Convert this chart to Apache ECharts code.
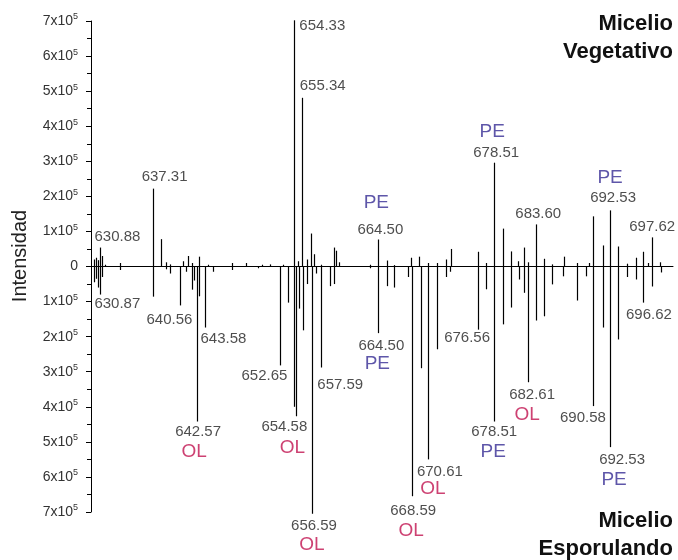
<!DOCTYPE html>
<html>
<head>
<meta charset="utf-8">
<script src="https://cdn.jsdelivr.net/npm/echarts@6/dist/echarts.min.js"></script>
<style>html,body{margin:0;padding:0;background:#fff;}#c{width:678px;height:560px;}</style>
</head>
<body>
<div id="c"></div>
<script>
// m/z and intensity (x10^5) — Micelio Vegetativo (upper trace)
const vegPeaks = [
  [630.2,0.2],[630.4,0.25],[630.6,0.18],[630.88,0.54],[631.1,0.3],[631.5,0.05],[633.3,0.1],
  [637.31,2.22],[638.30,0.78],[638.9,0.12],[639.4,0.06],[640.9,0.15],[641.5,0.3],[642.0,0.1],
  [642.9,0.28],[644.0,0.05],[646.8,0.1],[648.6,0.1],[650.5,0.05],[651.5,0.06],[653.0,0.05],
  [654.33,7.02],[654.8,0.15],[655.34,4.81],[655.9,0.2],[656.40,0.94],[656.8,0.35],[657.6,0.05],
  [659.2,0.54],[659.4,0.45],[659.8,0.12],[663.6,0.05],[664.50,0.77],[665.6,0.17],[666.5,0.04],
  [668.5,0.25],[669.5,0.28],[670.6,0.1],[671.6,0.1],[672.7,0.2],[673.3,0.5],[676.56,0.42],
  [677.6,0.1],[678.51,2.96],[679.6,1.08],[680.6,0.43],[681.5,0.15],[682.2,0.54],[682.6,0.12],
  [683.60,1.2],[684.6,0.22],[685.6,0.06],[687.0,0.28],[688.6,0.1],[690.0,0.1],[690.58,1.43],
  [691.7,0.6],[692.53,1.6],[693.6,0.57],[694.6,0.08],[695.7,0.25],[696.6,0.42],[697.2,0.1],
  [697.62,0.83],[698.6,0.12]
];
// m/z and intensity (x10^5) — Micelio Esporulando (lower, mirrored trace)
const espPeaks = [
  [630.2,0.45],[630.4,0.35],[630.6,0.6],[630.87,0.8],[631.1,0.3],[633.3,0.1],[637.31,0.86],
  [638.9,0.08],[639.4,0.2],[640.56,1.11],[641.3,0.15],[642.0,0.66],[642.3,0.4],[642.57,4.42],
  [642.9,0.85],[643.58,1.74],[644.6,0.15],[646.8,0.1],[650.0,0.05],[652.65,2.82],[653.6,1.03],
  [654.33,4.0],[654.58,4.27],[654.9,1.2],[655.4,1.82],[655.9,0.5],[656.59,7.05],[657.0,0.2],
  [657.59,2.88],[658.7,0.56],[659.2,0.5],[663.6,0.05],[664.50,1.9],[665.6,0.56],[666.5,0.6],
  [668.2,0.3],[668.59,6.55],[669.7,2.9],[670.61,5.5],[671.6,2.36],[672.7,0.3],[673.2,0.15],
  [676.56,1.8],[677.6,0.65],[678.51,4.42],[679.6,1.65],[680.6,1.17],[681.6,0.37],[682.2,0.75],
  [682.61,3.3],[683.6,1.54],[684.6,1.42],[685.6,0.51],[686.9,0.28],[688.6,0.97],[689.7,0.28],
  [690.58,3.98],[691.7,1.74],[692.53,5.15],[693.6,2.08],[694.6,0.3],[695.7,0.37],[696.62,1.03],
  [697.62,0.57],[698.7,0.17]
];
// Annotated peaks
const vegLabelMz  = [630.88, 637.31, 654.33, 655.34, 664.50, 678.51, 683.60, 692.53, 697.62];
const vegLabelTag = ['', '', '', '', 'PE', 'PE', '', 'PE', ''];
const espLabelMz  = [630.87, 640.56, 643.58, 642.57, 652.65, 654.58, 656.59, 657.59, 664.50,
                     668.59, 670.61, 676.56, 678.51, 682.61, 690.58, 692.53, 696.62];
const espLabelTag = ['', '', '', 'OL', '', 'OL', 'OL', '', 'PE', 'OL', 'OL', '', 'PE', 'OL', '', 'PE', ''];
// Y tick values (x10^5)
const yTicks = [-7,-6,-5,-4,-3,-2,-1,0,1,2,3,4,5,6,7];

// layout: label offsets in px from the peak tip
const vegNumOff = [[18,-10],[12,-11],[29,6],[21,-11],[3,-9],[3,-9],[3,-10],[4,-12],[1,-10]];
const vegTagOff = [null,null,null,null,[-1,-36],[-1,-30],null,[1,-32],null];
const espNumOff = [[18,10],[-10,15],[19,12],[2,11],[-15,11],[-11,11],[2,13],[20,18],[4,13],
                   [2,15],[12,13],[-10,9],[1,11],[5,13],[-10,12],[13,13],[6,13]];
const espTagOff = [null,null,null,[-2,31],null,[-3,32],[0,32],null,[0,31],
                   [0,35],[5,30],null,[0,31],[0,33],null,[5,33],null];

const tagColor = {PE:'#362c94', OL:'#c0114f'};
const FONT = '"Liberation Sans", Arial, Helvetica, sans-serif';

function findInt(peaks, mz){
  let best = peaks[0];
  for (const p of peaks) if (Math.abs(p[0]-mz) < Math.abs(best[0]-mz)) best = p;
  return best[1];
}

const stemData = vegPeaks.map(p => [p[0], p[1]]).concat(espPeaks.map(p => [p[0], -p[1]]));

const labelData = [];
vegLabelMz.forEach((mz, i) => {
  const v = findInt(vegPeaks, mz);
  labelData.push({value:[mz, v], label:{position:vegNumOff[i], formatter: mz.toFixed(2),
    fontSize:15, color:'#222'}});
  if (vegLabelTag[i]) labelData.push({value:[mz, v], label:{position:vegTagOff[i],
    formatter: vegLabelTag[i], fontSize:19, color: tagColor[vegLabelTag[i]]}});
});
espLabelMz.forEach((mz, i) => {
  const v = -findInt(espPeaks, mz);
  labelData.push({value:[mz, v], label:{position:espNumOff[i], formatter: mz.toFixed(2),
    fontSize:15, color:'#222'}});
  if (espLabelTag[i]) labelData.push({value:[mz, v], label:{position:espTagOff[i],
    formatter: espLabelTag[i], fontSize:19, color: tagColor[espLabelTag[i]]}});
});

const chart = echarts.init(document.getElementById('c'), null, {renderer:'canvas'});
chart.setOption({
  animation:false,
  backgroundColor:'#fff',
  textStyle:{fontFamily:FONT},
  grid:{left:91, right:5, top:21, bottom:48},
  xAxis:{type:'value', min:629.8, max:700.2,
    axisLine:{show:true, onZero:true, lineStyle:{color:'#000', width:1}},
    axisTick:{show:false}, axisLabel:{show:false}, splitLine:{show:false}},
  yAxis:{type:'value', min:yTicks[0], max:yTicks[yTicks.length-1], interval:1,
    axisLine:{show:true, lineStyle:{color:'#000', width:1}},
    axisTick:{show:true, length:5, lineStyle:{color:'#000'}},
    minorTick:{show:true, splitNumber:2, length:4, lineStyle:{color:'#000'}},
    splitLine:{show:false},
    axisLabel:{margin:13, color:'#333', fontFamily:FONT,
      formatter: v => v === 0 ? '{a|0}' : '{a|' + Math.abs(v) + 'x10}{s|5}',
      rich:{a:{fontSize:14, color:'#333', fontFamily:FONT},
            s:{fontSize:9, color:'#333', fontFamily:FONT, padding:[0,0,8,0]}}}},
  graphic:[
    {type:'text', x:20, y:256, rotation:Math.PI/2,
      style:{text:'Intensidad', fontSize:20, fontFamily:FONT, fill:'#222', align:'center', verticalAlign:'middle'}},
    {type:'text', x:673, y:24, style:{text:'Micelio', fontSize:22, fontWeight:'bold', fontFamily:FONT, fill:'#111', align:'right', verticalAlign:'middle'}},
    {type:'text', x:673, y:52, style:{text:'Vegetativo', fontSize:22, fontWeight:'bold', fontFamily:FONT, fill:'#111', align:'right', verticalAlign:'middle'}},
    {type:'text', x:673, y:521, style:{text:'Micelio', fontSize:22, fontWeight:'bold', fontFamily:FONT, fill:'#111', align:'right', verticalAlign:'middle'}},
    {type:'text', x:673, y:549, style:{text:'Esporulando', fontSize:22, fontWeight:'bold', fontFamily:FONT, fill:'#111', align:'right', verticalAlign:'middle'}}
  ],
  series:[
    {type:'custom', clip:false, data:stemData,
      renderItem:(params, api) => {
        const x = api.value(0), v = api.value(1);
        const p0 = api.coord([x, 0]), p1 = api.coord([x, v]);
        return {type:'line', shape:{x1:Math.round(p0[0])+0.5, y1:p0[1], x2:Math.round(p0[0])+0.5, y2:p1[1]},
          style:{stroke:'#000', lineWidth:1.2}};
      }},
    {type:'scatter', clip:false, data:labelData, symbolSize:1, itemStyle:{color:'rgba(0,0,0,0)'},
      label:{show:true, align:'center', verticalAlign:'middle', fontFamily:FONT}, z:5}
  ]
});
</script>
</body>
</html>
